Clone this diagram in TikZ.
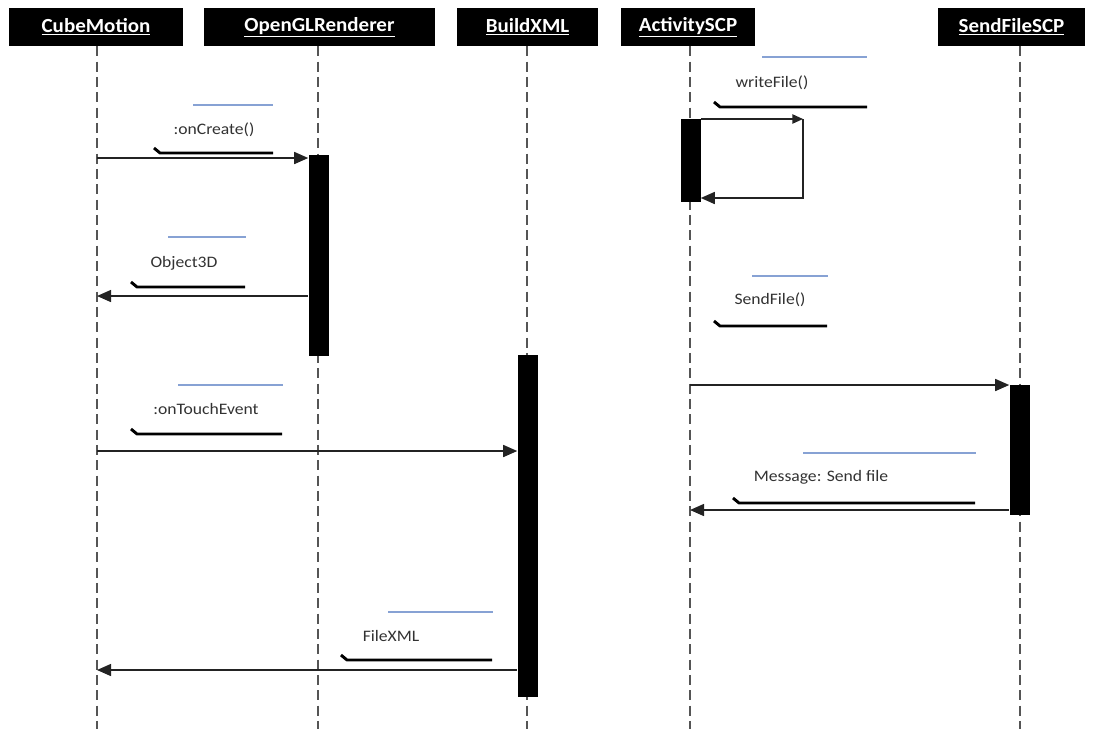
\documentclass[tikz,border=0pt]{standalone}
\usepackage{fontspec}
\setmainfont{Carlito}
\newfontfamily\lblfont[FakeStretch=1.1]{Carlito}
\newfontfamily\hdfont[FakeStretch=1.05]{Carlito}
\usetikzlibrary{arrows.meta}
\definecolor{lblblue}{RGB}{135,162,212}
\definecolor{lifegray}{RGB}{85,85,85}
\definecolor{msgcol}{RGB}{35,35,35}
\definecolor{txtcol}{RGB}{50,50,50}
\begin{document}
\begin{tikzpicture}[x=0.75pt,y=-0.75pt,
  head/.style={fill=black,text=white,inner sep=0pt,minimum height=28.5pt,
    font=\hdfont\bfseries\fontsize{15}{18}\selectfont},
  lifeline/.style={draw=lifegray,line width=1.4pt,dash pattern=on 7.5pt off 4pt},
  actbar/.style={fill=black,draw=none,inner sep=0pt,minimum width=15pt},
  msg/.style={draw=msgcol,line width=1.1pt,-{Triangle[length=10.5pt,width=9pt]}},
  lbl/.style={text=txtcol,inner sep=0pt,font=\lblfont\fontsize{12}{14}\selectfont},
  blueline/.style={draw=lblblue,line width=1.3pt},
  blackline/.style={draw=black,line width=2.2pt,line join=round}
]
\useasboundingbox (0,0) rectangle (1093,729);

% headers
\node[head,minimum width=130.5pt] (cm) at (96,27) {\underline{CubeMotion}};
\node[head,minimum width=173.25pt] (gl) at (319.5,27) {\underline{OpenGLRenderer}};
\node[head,minimum width=105.75pt] (bx) at (527.5,27) {\underline{BuildXML}};
\node[head,minimum width=100.5pt] (ac) at (688,27) {\underline{ActivitySCP}};
\node[head,minimum width=110.25pt] (sf) at (1011.5,27) {\underline{SendFileSCP}};

% lifelines
\coordinate (cmend) at (97,729);
\coordinate (glend) at (318,729);
\coordinate (bxend) at (527,729);
\coordinate (acend) at (690,729);
\coordinate (sfend) at (1020,729);
\draw[lifeline] (cmend |- cm.south) -- (cmend);
\draw[lifeline] (glend |- gl.south) -- (glend);
\draw[lifeline] (bxend |- bx.south) -- (bxend);
\draw[lifeline] (acend |- ac.south) -- (acend);
\draw[lifeline] (sfend |- sf.south) -- (sfend);

% activation bars
\node[actbar,minimum height=150.75pt] (glbar) at (318.5,255.5) {};
\node[actbar,minimum height=256.5pt] (bxbar) at (527.5,526) {};
\node[actbar,minimum height=62.25pt] (acbar) at (690.5,160.5) {};
\node[actbar,minimum height=97.5pt] (sfbar) at (1019.5,450) {};

% message 1 :onCreate()
\coordinate (m1) at (97,158);
\draw[msg] (m1) -- (m1 -| glbar.west);
\draw[blueline] (193,105) -- (273,105);
\node[lbl] (t1) at (214,130) {:onCreate()};
\draw[blackline] (154,148) -- (160,153) -- (273,153);

% message 2 Object3D
\coordinate (m2) at (97,296);
\draw[msg] (m2 -| glbar.west) -- (m2);
\draw[blueline] (168,237) -- (246,237);
\node[lbl] (t2) at (184,263) {Object3D};
\draw[blackline] (131,282) -- (137,287) -- (245,287);

% message 3 :onTouchEvent
\coordinate (m3) at (97,451);
\draw[msg] (m3) -- (m3 -| bxbar.west);
\draw[blueline] (178,385) -- (283,385);
\node[lbl] (t3) at (206,409) {:onTouchEvent};
\draw[blackline] (131,429) -- (137,434) -- (282,434);

% message 4 FileXML
\coordinate (m4) at (97,670);
\draw[msg] (m4 -| bxbar.west) -- (m4);
\draw[blueline] (388,612) -- (493,612);
\node[lbl] (t4) at (391,636) {FileXML};
\draw[blackline] (341,655) -- (347,660) -- (492,660);

% message 5 writeFile() (self call)
\coordinate (m5a) at (690,119);
\coordinate (m5b) at (803,119);
\coordinate (m5c) at (690,198);
\draw[msg,-{Triangle[length=8pt,width=7pt]}] (m5a -| acbar.east) -- (m5b);
\draw[msg] (m5b) |- (m5c -| acbar.east);
\draw[blueline] (762,57) -- (867,57);
\node[lbl] (t5) at (772,83) {writeFile()};
\draw[blackline] (714,102) -- (720,107) -- (867,107);

% message 6 SendFile()
\coordinate (m6) at (690,385);
\draw[msg] (m6) -- (m6 -| sfbar.west);
\draw[blueline] (752,276) -- (828,276);
\node[lbl] (t6) at (770,300) {SendFile()};
\draw[blackline] (714,321) -- (720,326) -- (827,326);

% message 7 Message: Send file
\coordinate (m7) at (690,510);
\draw[msg] (m7 -| sfbar.west) -- (m7);
\draw[blueline] (803,453) -- (976,453);
\node[lbl] (t7) at (821,477) {Message: Send file};
\draw[blackline] (733,498) -- (739,503) -- (975,503);
\end{tikzpicture}
\end{document}
